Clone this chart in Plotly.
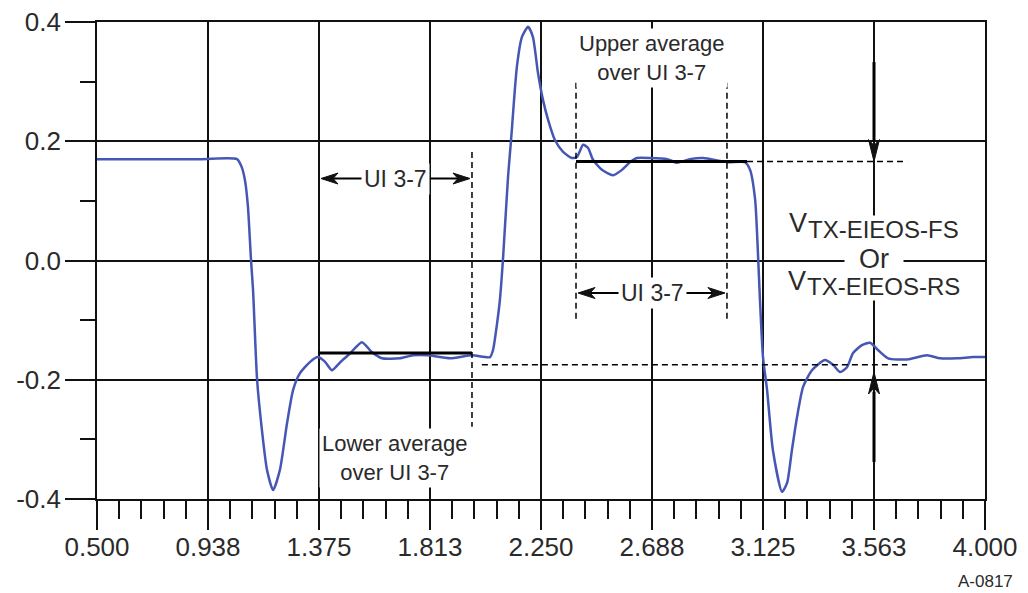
import plotly.graph_objects as go

# ---------------- data ----------------
wave_x = [0.500, 0.906, 1.052, 1.070, 1.083, 1.095, 1.107, 1.115, 1.131, 1.150,
          1.170, 1.194, 1.221, 1.249, 1.273, 1.300, 1.340, 1.371, 1.399, 1.426,
          1.458, 1.497, 1.544, 1.584, 1.623, 1.694, 1.746, 1.805, 1.891, 1.978,
          2.049, 2.061, 2.077, 2.088, 2.100, 2.120, 2.132, 2.155, 2.175, 2.199,
          2.218, 2.238, 2.258, 2.278, 2.305, 2.337, 2.372, 2.392, 2.416, 2.435,
          2.455, 2.490, 2.534, 2.569, 2.601, 2.628, 2.680, 2.747, 2.786, 2.837,
          2.889, 2.983, 3.054, 3.074, 3.094, 3.105, 3.113, 3.125, 3.141, 3.164,
          3.200, 3.220, 3.239, 3.259, 3.283, 3.318, 3.369, 3.401, 3.429, 3.456,
          3.480, 3.515, 3.547, 3.578, 3.618, 3.693, 3.771, 3.823, 3.890, 3.953,
          4.000]
wave_y = [0.170, 0.170, 0.170, 0.157, 0.135, 0.090, 0.001, -0.049, -0.200, -0.284,
          -0.351, -0.385, -0.351, -0.273, -0.217, -0.189, -0.170, -0.162, -0.170, -0.184,
          -0.171, -0.156, -0.137, -0.154, -0.164, -0.164, -0.159, -0.159, -0.164, -0.159,
          -0.162, -0.150, -0.105, -0.066, 0.001, 0.140, 0.202, 0.325, 0.375, 0.392,
          0.375, 0.315, 0.269, 0.236, 0.202, 0.182, 0.172, 0.174, 0.194, 0.189,
          0.169, 0.152, 0.143, 0.152, 0.165, 0.172, 0.172, 0.170, 0.164, 0.170,
          0.172, 0.165, 0.165, 0.152, 0.102, 0.013, -0.066, -0.162, -0.217, -0.318,
          -0.388, -0.373, -0.318, -0.263, -0.212, -0.184, -0.167, -0.175, -0.187, -0.179,
          -0.155, -0.142, -0.138, -0.150, -0.164, -0.166, -0.159, -0.164, -0.164, -0.162,
          -0.162]

x_tick_vals = [0.5, 0.9375, 1.375, 1.8125, 2.25, 2.6875, 3.125, 3.5625, 4.0]
x_tick_text = ["0.500", "0.938", "1.375", "1.813", "2.250", "2.688", "3.125", "3.563", "4.000"]
y_tick_vals = [-0.4, -0.2, 0.0, 0.2, 0.4]
y_tick_text = ["-0.4", "-0.2", "0.0", "0.2", "0.4"]

lower_avg = -0.155
upper_avg = 0.166
lower_ref = -0.175
ui_lower = [1.371, 1.978]
ui_upper = [2.388, 2.983]

FONT = "Liberation Sans, Arial, sans-serif"
TXT = "#2a2a2a"
BLUE = "#4656b4"

fig = go.Figure()
fig.add_trace(go.Scatter(x=wave_x, y=wave_y, mode="lines",
                         line=dict(color=BLUE, width=2.5, shape="spline", smoothing=0.6),
                         hoverinfo="skip", showlegend=False))

shapes = []
def seg(x0, y0, x1, y1, w=1.5, dash=None, color="black"):
    d = dict(type="line", xref="x", yref="y", x0=x0, y0=y0, x1=x1, y1=y1,
             line=dict(color=color, width=w), layer="above")
    if dash:
        d["line"]["dash"] = dash
    shapes.append(d)

# average levels
seg(ui_lower[0], lower_avg, ui_lower[1], lower_avg, w=3)
seg(ui_upper[0], upper_avg, 3.062, upper_avg, w=3)
seg(3.062, upper_avg, 3.693, upper_avg, w=1.5, dash="6px,4px")
seg(2.017, lower_ref, 3.693, lower_ref, w=1.5, dash="6px,4px")
# vertical dashed markers
seg(1.978, 0.182, 1.978, -0.279, w=1.5, dash="6px,4px")
seg(2.388, 0.298, 2.388, -0.103, w=1.5, dash="6px,4px")
seg(2.983, 0.298, 2.983, -0.103, w=1.5, dash="6px,4px")

# horizontal UI arrows (shafts)
ui1_y, ui2_y = 0.1375, -0.0545
seg(1.390, ui1_y, 1.963, ui1_y, w=2)
seg(2.403, ui2_y, 2.968, ui2_y, w=2)
# vertical arrows (shafts)
seg(3.5625, 0.333, 3.5625, 0.20, w=3)
seg(3.5625, -0.338, 3.5625, -0.22, w=3)

def head(x, y, path):
    shapes.append(dict(type="path", xref="x", yref="y", xsizemode="pixel", ysizemode="pixel",
                       xanchor=x, yanchor=y, path=path,
                       fillcolor="#111", line=dict(color="#111", width=1), layer="above"))

LEFT = "M0,0 L17,-5.5 L12,0 L17,5.5 Z"
RIGHT = "M0,0 L-17,-5.5 L-12,0 L-17,5.5 Z"
head(1.383, ui1_y, LEFT)
head(1.970, ui1_y, RIGHT)
head(2.396, ui2_y, LEFT)
head(2.975, ui2_y, RIGHT)
DOWN = "M0,0 L-5.5,22 L0,16 L5.5,22 Z"
UP = "M0,0 L-5.5,-22 L0,-16 L5.5,-22 Z"
head(3.5625, 0.166, DOWN)
head(3.5625, -0.187, UP)

ann = []
def text(x, y, s, size=22, xanchor="center", xshift=0, bg="white", width=None, pad=2):
    d = dict(x=x, y=y, xref="x", yref="y", text=s, showarrow=False,
             font=dict(family=FONT, size=size, color=TXT), bgcolor=bg,
             borderpad=pad, xanchor=xanchor, yanchor="middle", xshift=xshift,
             align="center")
    if width:
        d["width"] = width
    ann.append(d)

text(1.675, ui1_y, "UI 3-7", size=23)
text(2.6875, ui2_y, "UI 3-7", size=23)
text(2.6875, 0.340, "Upper average<br>over UI 3-7")
text(1.675, -0.331, "Lower average<br>over UI 3-7")
text(3.5625, 0.0025, "Or", size=27, width=54)
text(3.5625, 0.0637, "V", size=27, xanchor="right", xshift=-66, pad=0)
text(3.5625, 0.052, "TX-EIEOS-FS", size=24, xanchor="left", xshift=-67, pad=0)
text(3.5625, -0.0344, "V", size=27, xanchor="right", xshift=-67, pad=0)
text(3.5625, -0.0436, "TX-EIEOS-RS", size=24, xanchor="left", xshift=-68, pad=0)

ann.append(dict(x=1.0338, y=-0.172, xref="paper", yref="paper", text="A-0817",
                showarrow=False, xanchor="right", yanchor="middle",
                font=dict(family=FONT, size=17, color=TXT)))

axis_common = dict(showgrid=True, gridcolor="#111", gridwidth=1.6, zeroline=False,
                   showline=True, linecolor="#111", linewidth=1.6, mirror=True,
                   ticks="outside", tickcolor="#111", tickwidth=2, automargin=False,
                   ticklabeloverflow="allow",
                   tickfont=dict(family=FONT, size=26, color=TXT), fixedrange=True)

# the page body adds an 8px offset, so the figure is 8px smaller and margins shifted
fig.update_layout(
    width=1020, height=585, autosize=False,
    margin=dict(l=89, r=43, t=14, b=94),
    paper_bgcolor="white", plot_bgcolor="white",
    shapes=shapes, annotations=ann, showlegend=False,
    xaxis=dict(range=[0.5, 4.0], tickmode="array", tickvals=x_tick_vals, ticktext=x_tick_text,
               ticklen=29, ticklabelstandoff=-5,
               minor=dict(tick0=0.5, dtick=0.0875, ticks="outside", ticklen=18,
                          tickwidth=2, tickcolor="#111", showgrid=False),
               **axis_common),
    yaxis=dict(range=[-0.4, 0.4], tickmode="array", tickvals=y_tick_vals, ticktext=y_tick_text,
               ticklen=30, ticklabelstandoff=-1,
               minor=dict(tick0=-0.4, dtick=0.1, ticks="outside", ticklen=15,
                          tickwidth=2, tickcolor="#111", showgrid=False),
               **axis_common),
)

fig.write_html("out.html")
